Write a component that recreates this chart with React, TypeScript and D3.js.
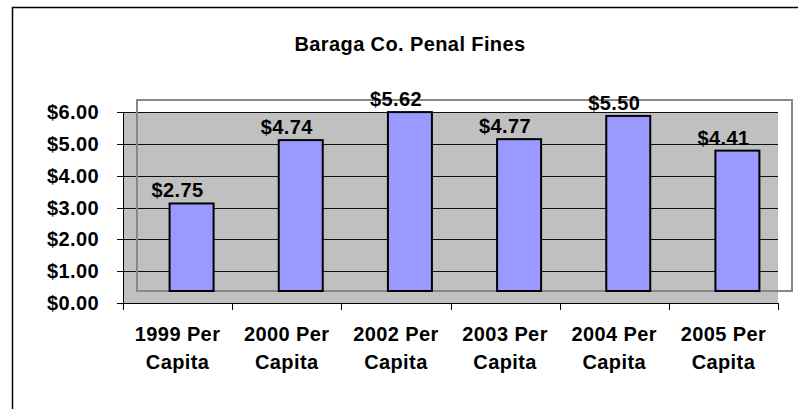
import React, { useRef, useEffect } from 'react'
import * as d3 from 'd3'

// chart data
const years = ['1999', '2000', '2002', '2003', '2004', '2005']
const perCapita = [2.75, 4.74, 5.62, 4.77, 5.5, 4.41]
const yTicks = [0, 1, 2, 3, 4, 5, 6]
const title = 'Baraga Co. Penal Fines'

const App = () => {
    const svgEl = useRef<SVGSVGElement>(null)

    useEffect(() => {
        if (!svgEl.current) return
        const svg = d3.select(svgEl.current)
        svg.selectAll('*').remove()

        const font = 'Arial, "Liberation Sans", sans-serif'
        const fontSize = '20px'
        // the "3d" back wall is shifted right and up from the axes
        const depthX = 14
        const depthY = -12

        const xScale = d3.scaleBand<string>()
            .domain(years)
            .range([123, 778])
        const yScale = d3.scaleLinear()
            .domain([0, 6])
            .range([303, 112])
        const bw = xScale.bandwidth()

        // outer chart border (right/bottom edges fall off the picture)
        svg.append('rect')
            .attr('x', 12.5).attr('y', 7.5)
            .attr('width', 820).attr('height', 430)
            .attr('fill', 'white')
            .attr('stroke', 'black')
            .attr('stroke-width', 1.5)

        svg.append('text')
            .attr('x', 410).attr('y', 51)
            .attr('text-anchor', 'middle')
            .style('font', `bold ${fontSize} ${font}`)
            .style('letter-spacing', '0.4px')
            .text(title)

        // plot area
        svg.append('rect')
            .attr('x', 123).attr('y', yScale(6))
            .attr('width', 778 - 123).attr('height', yScale(0) - yScale(6))
            .attr('fill', '#c0c0c0')

        // gridlines + y ticks
        svg.selectAll('.grid')
            .data(yTicks)
            .enter()
            .append('line')
            .attr('x1', 117).attr('x2', 778)
            .attr('y1', d => Math.round(yScale(d)) + 0.5)
            .attr('y2', d => Math.round(yScale(d)) + 0.5)
            .attr('stroke', '#111')
            .attr('stroke-width', 1)

        svg.selectAll('.ylab')
            .data(yTicks)
            .enter()
            .append('text')
            .attr('x', 99)
            .attr('y', d => yScale(d) + 7)
            .attr('text-anchor', 'end')
            .style('font', `bold ${fontSize} ${font}`)
            .style('letter-spacing', '0.4px')
            .text(d => d3.format('$.2f')(d))

        // back wall frame
        svg.append('rect')
            .attr('x', 123 + depthX).attr('y', yScale(6) + depthY)
            .attr('width', 778 - 123).attr('height', yScale(0) - yScale(6))
            .attr('fill', 'none')
            .attr('stroke', '#888')
            .attr('stroke-width', 2)

        // axes lines
        svg.append('line')
            .attr('x1', 123.5).attr('x2', 123.5)
            .attr('y1', yScale(6)).attr('y2', yScale(0))
            .attr('stroke', 'black')
        svg.append('line')
            .attr('x1', 117).attr('x2', 778)
            .attr('y1', yScale(0) + 0.5).attr('y2', yScale(0) + 0.5)
            .attr('stroke', 'black')

        // category ticks
        svg.selectAll('.xtick')
            .data([...years.map(d => xScale(d) as number), 778])
            .enter()
            .append('line')
            .attr('x1', d => Math.round(d) + 0.5).attr('x2', d => Math.round(d) + 0.5)
            .attr('y1', yScale(0)).attr('y2', yScale(0) + 7)
            .attr('stroke', 'black')

        // bars
        const barW = 44
        svg.selectAll('.bar')
            .data(perCapita)
            .enter()
            .append('rect')
            .attr('x', (d, i) => (xScale(years[i]) as number) + bw / 2 + depthX - barW / 2)
            .attr('y', d => yScale(d) + depthY)
            .attr('width', barW)
            .attr('height', d => yScale(0) - yScale(d))
            .attr('fill', '#9999ff')
            .attr('stroke', 'black')
            .attr('stroke-width', 2)

        // value labels
        svg.selectAll('.val')
            .data(perCapita)
            .enter()
            .append('text')
            .attr('x', (d, i) => (xScale(years[i]) as number) + bw / 2)
            .attr('y', d => yScale(d) + depthY - 6)
            .attr('text-anchor', 'middle')
            .style('font', `bold ${fontSize} ${font}`)
            .style('letter-spacing', '0.4px')
            .text(d => d3.format('$.2f')(d))

        // category labels, two lines
        const cat = svg.selectAll('.cat')
            .data(years)
            .enter()
            .append('text')
            .attr('text-anchor', 'middle')
            .style('font', `bold ${fontSize} ${font}`)
            .style('letter-spacing', '0.4px')
        cat.append('tspan')
            .attr('x', d => (xScale(d) as number) + bw / 2)
            .attr('y', 341)
            .text(d => `${d} Per`)
        cat.append('tspan')
            .attr('x', d => (xScale(d) as number) + bw / 2)
            .attr('y', 369)
            .text('Capita')
    }, [])

    return (
        <svg
            ref={svgEl}
            width={798}
            height={409}
            style={{ position: 'absolute', left: 0, top: 0, background: 'white' }}
        />
    )
}

export default App
